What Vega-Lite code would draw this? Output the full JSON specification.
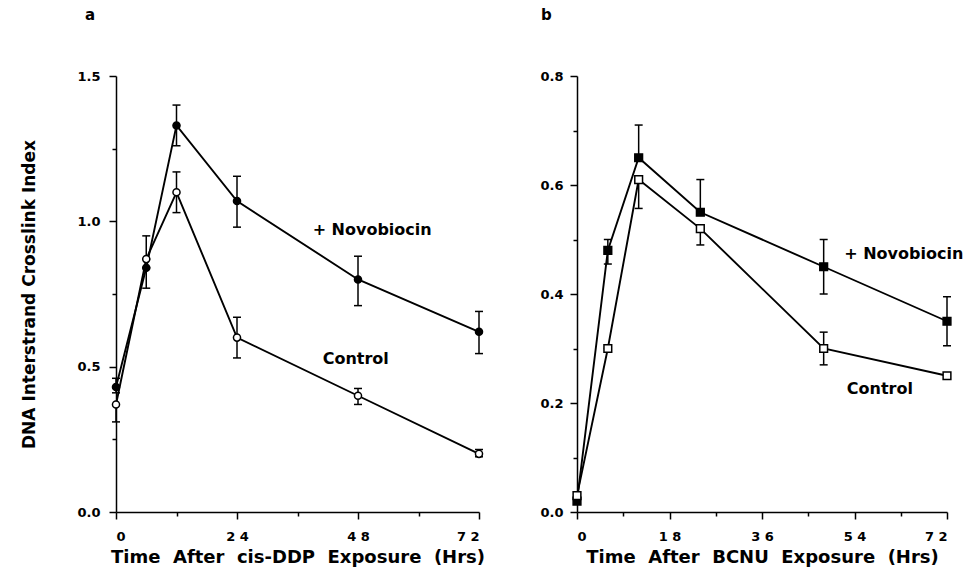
{
  "$schema": "https://vega.github.io/schema/vega-lite/v6.json",
  "background": "white",
  "padding": {"left": 20, "top": 8, "right": 5, "bottom": 5},
  "bounds": "flush",
  "spacing": 98,
  "config": {
    "font": "DejaVu Sans",
    "view": {"stroke": null},
    "axis": {
      "grid": false,
      "domainColor": "black",
      "domainWidth": 1.5,
      "tickColor": "black",
      "tickWidth": 1.5,
      "tickSize": 7,
      "labelFont": "DejaVu Sans",
      "labelFontWeight": "bold",
      "labelFontSize": 13,
      "labelColor": "black",
      "titleFont": "DejaVu Sans",
      "titleFontWeight": "bold",
      "titleFontSize": 18,
      "titleColor": "black"
    },
    "title": {"font": "DejaVu Sans", "fontWeight": "bold", "fontSize": 15, "color": "black"}
  },
  "datasets": {
    "a": [
      {"g": "Novobiocin", "t": 0, "y": 0.43, "lo": 0.41, "hi": 0.46},
      {"g": "Novobiocin", "t": 6, "y": 0.84, "lo": 0.77, "hi": 0.84},
      {"g": "Novobiocin", "t": 12, "y": 1.33, "lo": 1.26, "hi": 1.40},
      {"g": "Novobiocin", "t": 24, "y": 1.07, "lo": 0.98, "hi": 1.155},
      {"g": "Novobiocin", "t": 48, "y": 0.80, "lo": 0.71, "hi": 0.88},
      {"g": "Novobiocin", "t": 72, "y": 0.62, "lo": 0.545, "hi": 0.69},
      {"g": "Control", "t": 0, "y": 0.37, "lo": 0.31, "hi": 0.37},
      {"g": "Control", "t": 6, "y": 0.87, "lo": 0.87, "hi": 0.95},
      {"g": "Control", "t": 12, "y": 1.10, "lo": 1.03, "hi": 1.17},
      {"g": "Control", "t": 24, "y": 0.60, "lo": 0.53, "hi": 0.67},
      {"g": "Control", "t": 48, "y": 0.40, "lo": 0.37, "hi": 0.425},
      {"g": "Control", "t": 72, "y": 0.20, "lo": 0.19, "hi": 0.215}
    ],
    "b": [
      {"g": "Novobiocin", "t": 0, "y": 0.02, "lo": 0.02, "hi": 0.02},
      {"g": "Novobiocin", "t": 6, "y": 0.48, "lo": 0.455, "hi": 0.50},
      {"g": "Novobiocin", "t": 12, "y": 0.65, "lo": 0.65, "hi": 0.71},
      {"g": "Novobiocin", "t": 24, "y": 0.55, "lo": 0.55, "hi": 0.61},
      {"g": "Novobiocin", "t": 48, "y": 0.45, "lo": 0.40, "hi": 0.50},
      {"g": "Novobiocin", "t": 72, "y": 0.35, "lo": 0.305, "hi": 0.395},
      {"g": "Control", "t": 0, "y": 0.03, "lo": 0.03, "hi": 0.03},
      {"g": "Control", "t": 6, "y": 0.30, "lo": 0.30, "hi": 0.30},
      {"g": "Control", "t": 12, "y": 0.61, "lo": 0.557, "hi": 0.61},
      {"g": "Control", "t": 24, "y": 0.52, "lo": 0.49, "hi": 0.52},
      {"g": "Control", "t": 48, "y": 0.30, "lo": 0.27, "hi": 0.33},
      {"g": "Control", "t": 72, "y": 0.25, "lo": 0.245, "hi": 0.255}
    ],
    "la": [
      {"label": "+ Novobiocin", "t": 39, "y": 0.97},
      {"label": "Control", "t": 41, "y": 0.526}
    ],
    "lb": [
      {"label": "+ Novobiocin", "t": 52, "y": 0.474},
      {"label": "Control", "t": 52.5, "y": 0.225}
    ]
  },
  "hconcat": [
    {
      "width": 363,
      "height": 436,
      "title": {"text": "a", "anchor": "start", "frame": "group", "dx": -31, "offset": 47},
      "resolve": {"axis": {"x": "independent", "y": "independent"}},
      "layer": [
        {
          "data": {"name": "a"},
          "mark": {"type": "line", "color": "black", "strokeWidth": 1.9},
          "encoding": {
            "x": {"field": "t", "type": "quantitative", "scale": {"domain": [0, 72], "nice": false},
              "axis": {"values": [0, 24, 48, 72], "title": "Time\u00a0 After\u00a0 cis-DDP\u00a0 Exposure\u00a0 (Hrs)", "labelPadding": 11, "titlePadding": 5,
                "labelExpr": "length(datum.label) > 1 ? substring(datum.label, 0, 1) + ' ' + substring(datum.label, 1) : datum.label"}},
            "y": {"field": "y", "type": "quantitative", "scale": {"domain": [0, 1.5], "nice": false},
              "axis": {"values": [0, 0.5, 1.0, 1.5], "format": ".1f", "title": "DNA Interstrand Crosslink Index", "titleFontSize": 17, "labelPadding": 9, "titlePadding": 38}},
            "detail": {"field": "g"},
            "order": {"field": "t"}
          }
        },
        {
          "data": {"name": "a"},
          "mark": {"type": "rule", "color": "black", "strokeWidth": 1.5},
          "encoding": {
            "x": {"field": "t", "type": "quantitative", "axis": null},
            "y": {"field": "lo", "type": "quantitative", "axis": null},
            "y2": {"field": "hi"}
          }
        },
        {
          "data": {"name": "a"},
          "mark": {"type": "tick", "orient": "horizontal", "color": "black", "size": 8, "thickness": 1.5, "opacity": 1},
          "encoding": {
            "x": {"field": "t", "type": "quantitative", "axis": null},
            "y": {"field": "lo", "type": "quantitative", "axis": null}
          }
        },
        {
          "data": {"name": "a"},
          "mark": {"type": "tick", "orient": "horizontal", "color": "black", "size": 8, "thickness": 1.5, "opacity": 1},
          "encoding": {
            "x": {"field": "t", "type": "quantitative", "axis": null},
            "y": {"field": "hi", "type": "quantitative", "axis": null}
          }
        },
        {
          "data": {"name": "a"},
          "mark": {"type": "point", "shape": "circle", "size": 50, "stroke": "black", "strokeWidth": 1.5, "filled": true, "opacity": 1},
          "encoding": {
            "x": {"field": "t", "type": "quantitative", "axis": null},
            "y": {"field": "y", "type": "quantitative", "axis": null},
            "fill": {"field": "g", "type": "nominal", "scale": {"domain": ["Novobiocin", "Control"], "range": ["black", "white"]}, "legend": null}
          }
        },
        {
          "data": {"name": "la"},
          "mark": {"type": "text", "font": "DejaVu Sans", "fontWeight": "bold", "fontSize": 16, "color": "black", "align": "left", "baseline": "middle"},
          "encoding": {
            "x": {"field": "t", "type": "quantitative", "axis": null},
            "y": {"field": "y", "type": "quantitative", "axis": null},
            "text": {"field": "label"}
          }
        },
        {
          "data": {"name": "a"},
          "mark": {"type": "point", "opacity": 0},
          "encoding": {
            "x": {"field": "t", "type": "quantitative", "axis": {"orient": "bottom", "values": [12, 36, 60], "labels": false, "domain": false, "tickSize": 4, "title": null}},
            "y": {"field": "y", "type": "quantitative", "axis": {"orient": "left", "values": [0.25, 0.75, 1.25], "labels": false, "domain": false, "tickSize": 4, "title": null}}
          }
        }
      ]
    },
    {
      "width": 370,
      "height": 436,
      "title": {"text": "b", "anchor": "start", "frame": "group", "dx": -36, "offset": 47},
      "resolve": {"axis": {"x": "independent", "y": "independent"}},
      "layer": [
        {
          "data": {"name": "b"},
          "mark": {"type": "line", "color": "black", "strokeWidth": 1.9},
          "encoding": {
            "x": {"field": "t", "type": "quantitative", "scale": {"domain": [0, 72], "nice": false},
              "axis": {"values": [0, 18, 36, 54, 72], "title": "Time\u00a0 After\u00a0 BCNU\u00a0 Exposure\u00a0 (Hrs)", "labelPadding": 11, "titlePadding": 5,
                "labelExpr": "length(datum.label) > 1 ? substring(datum.label, 0, 1) + ' ' + substring(datum.label, 1) : datum.label"}},
            "y": {"field": "y", "type": "quantitative", "scale": {"domain": [0, 0.8], "nice": false},
              "axis": {"values": [0, 0.2, 0.4, 0.6, 0.8], "format": ".1f", "title": null, "labelPadding": 7}},
            "detail": {"field": "g"},
            "order": {"field": "t"}
          }
        },
        {
          "data": {"name": "b"},
          "mark": {"type": "rule", "color": "black", "strokeWidth": 1.5},
          "encoding": {
            "x": {"field": "t", "type": "quantitative", "axis": null},
            "y": {"field": "lo", "type": "quantitative", "axis": null},
            "y2": {"field": "hi"}
          }
        },
        {
          "data": {"name": "b"},
          "mark": {"type": "tick", "orient": "horizontal", "color": "black", "size": 8, "thickness": 1.5, "opacity": 1},
          "encoding": {
            "x": {"field": "t", "type": "quantitative", "axis": null},
            "y": {"field": "lo", "type": "quantitative", "axis": null}
          }
        },
        {
          "data": {"name": "b"},
          "mark": {"type": "tick", "orient": "horizontal", "color": "black", "size": 8, "thickness": 1.5, "opacity": 1},
          "encoding": {
            "x": {"field": "t", "type": "quantitative", "axis": null},
            "y": {"field": "hi", "type": "quantitative", "axis": null}
          }
        },
        {
          "data": {"name": "b"},
          "mark": {"type": "point", "shape": "square", "size": 60, "stroke": "black", "strokeWidth": 1.5, "filled": true, "opacity": 1},
          "encoding": {
            "x": {"field": "t", "type": "quantitative", "axis": null},
            "y": {"field": "y", "type": "quantitative", "axis": null},
            "fill": {"field": "g", "type": "nominal", "scale": {"domain": ["Novobiocin", "Control"], "range": ["black", "white"]}, "legend": null}
          }
        },
        {
          "data": {"name": "lb"},
          "mark": {"type": "text", "font": "DejaVu Sans", "fontWeight": "bold", "fontSize": 16, "color": "black", "align": "left", "baseline": "middle"},
          "encoding": {
            "x": {"field": "t", "type": "quantitative", "axis": null},
            "y": {"field": "y", "type": "quantitative", "axis": null},
            "text": {"field": "label"}
          }
        },
        {
          "data": {"name": "b"},
          "mark": {"type": "point", "opacity": 0},
          "encoding": {
            "x": {"field": "t", "type": "quantitative", "axis": {"orient": "bottom", "values": [9, 27, 45, 63], "labels": false, "domain": false, "tickSize": 4, "title": null}},
            "y": {"field": "y", "type": "quantitative", "axis": {"orient": "left", "values": [0.1, 0.3, 0.5, 0.7], "labels": false, "domain": false, "tickSize": 4, "title": null}}
          }
        }
      ]
    }
  ]
}
